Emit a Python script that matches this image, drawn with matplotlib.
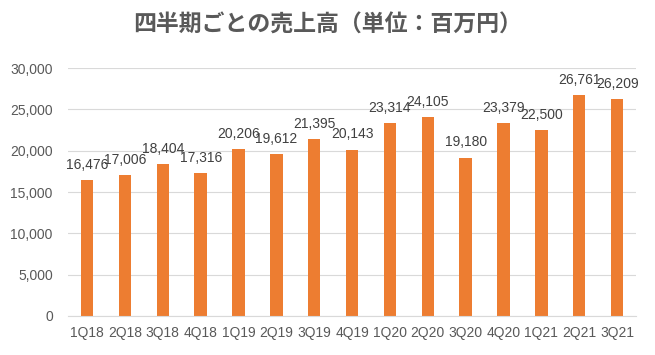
import matplotlib
matplotlib.use("Agg")
import matplotlib.pyplot as plt
from matplotlib.ticker import FuncFormatter

quarters = ["1Q18", "2Q18", "3Q18", "4Q18", "1Q19", "2Q19", "3Q19", "4Q19",
            "1Q20", "2Q20", "3Q20", "4Q20", "1Q21", "2Q21", "3Q21"]
sales = [16476, 17006, 18404, 17316, 20206, 19612, 21395, 20143,
         23314, 24105, 19180, 23379, 22500, 26761, 26209]
yticks = [0, 5000, 10000, 15000, 20000, 25000, 30000]

text_color = "#595959"

fig = plt.figure(figsize=(6.55, 3.55), dpi=100)
ax = fig.add_axes([0.104, 0.110, 0.867, 0.698])

x = range(len(quarters))
ax.bar(x, sales, width=0.33, color="#ED7D31", zorder=2)

for i, v in zip(x, sales):
    ax.annotate(f"{v:,}", (i, v), xytext=(0, 6), textcoords="offset points",
                ha="center", va="bottom", fontsize=10, color="#404040",
                family="Liberation Sans")

ax.set_ylim(0, 30000)
ax.set_xlim(-0.5, len(quarters) - 0.5)
ax.set_yticks(yticks)
ax.yaxis.set_major_formatter(FuncFormatter(lambda v, p: f"{int(v):,}"))
ax.set_xticks(list(x))
ax.set_xticklabels(quarters)
ax.grid(axis="y", color="#D9D9D9", linewidth=0.8, zorder=0)
for s in ["top", "right", "left"]:
    ax.spines[s].set_visible(False)
ax.spines["bottom"].set_color("#D9D9D9")
ax.tick_params(axis="both", length=0, colors=text_color, labelsize=10)
for lbl in ax.get_xticklabels() + ax.get_yticklabels():
    lbl.set_family("Liberation Sans")
ax.tick_params(axis="y", pad=11)
ax.tick_params(axis="x", pad=7)

fig.text(0.5, 0.93, "四半期ごとの売上高（単位：百万円）", ha="center", va="center",
         fontsize=16.5, fontweight="bold", color=text_color,
         family=["Noto Sans CJK JP", "DejaVu Sans"])

fig.savefig("out.png", dpi=100, facecolor="white")
